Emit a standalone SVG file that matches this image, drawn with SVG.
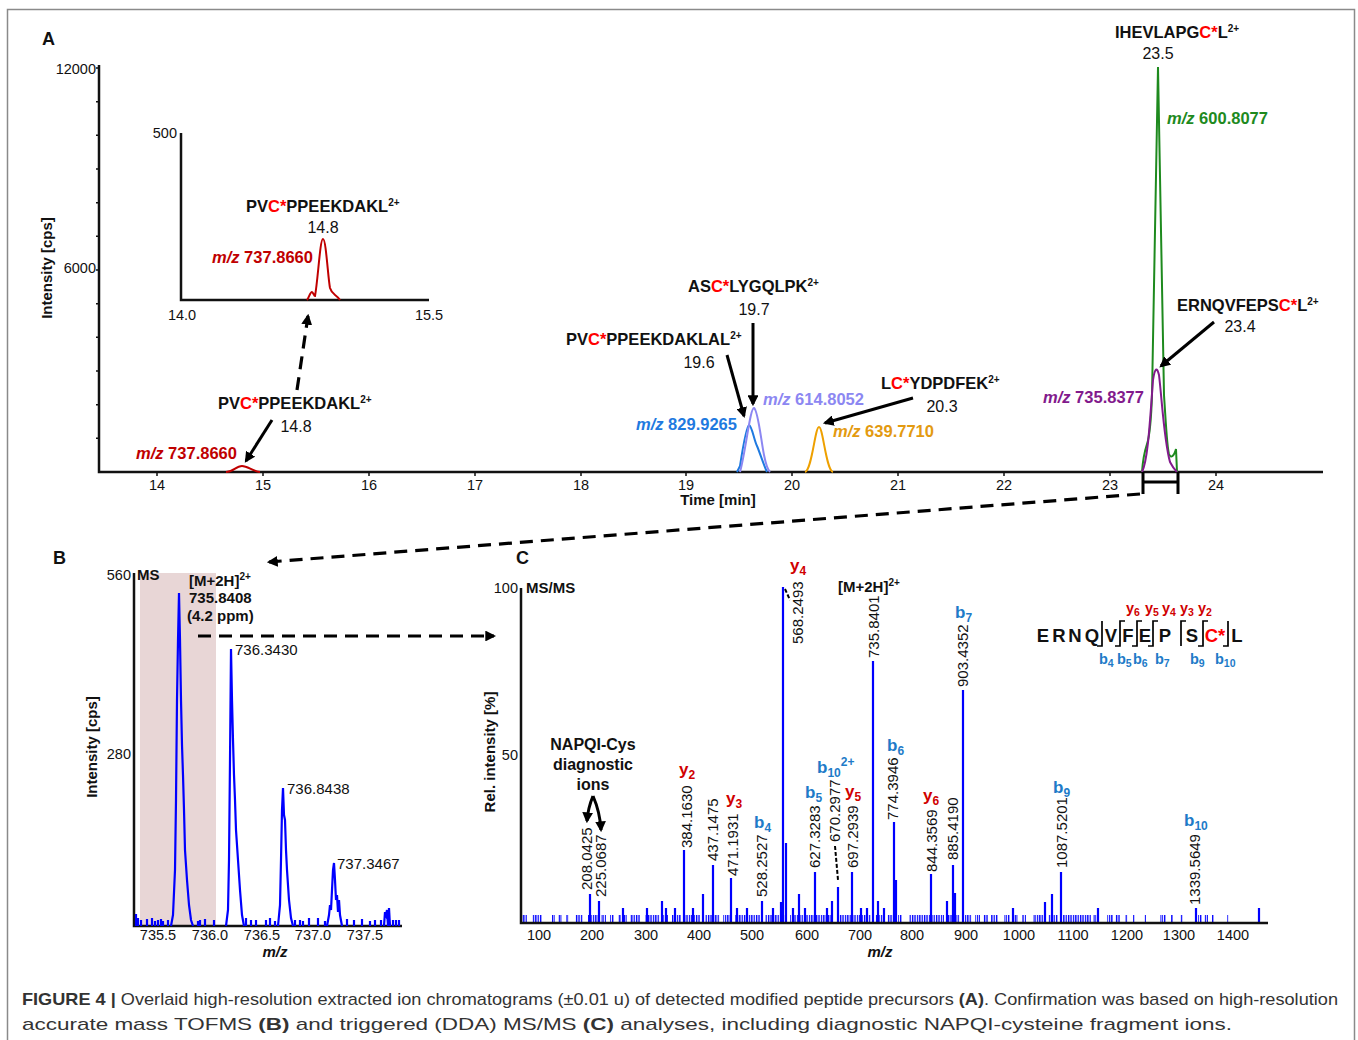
<svg xmlns="http://www.w3.org/2000/svg" width="1358" height="1040" viewBox="0 0 1358 1040">
<style>
text{font-family:"Liberation Sans",Arial,sans-serif;fill:#111}
.b{font-weight:bold}
.pep{font-weight:bold;font-size:16.5px}
.sup{font-size:10px}
.num{font-size:16px}
.tk{font-size:14.5px}
.mz{font-weight:bold;font-size:16.5px}
.pl{font-size:15px}
.ion{font-weight:bold;font-size:17px}
.sub{font-size:12px}
.seq{font-weight:bold;font-size:18.5px}
.sion{font-weight:bold;font-size:14.5px}
.ssub{font-size:10.5px}
.ax{stroke:#111;stroke-width:2.5;fill:none}
.tick{stroke:#111;stroke-width:1.5;fill:none}
.conn{stroke:#000;stroke-width:3;fill:none;marker-end:url(#ah)}
.dash{stroke:#000;stroke-width:3.2;fill:none;stroke-dasharray:13,8}
.ms{stroke:#0000ff;stroke-width:2.2;fill:none}
.red{fill:#ff0000}
.yr{fill:#d00000}
.bb{fill:#1e7bc8}
</style>
<defs>
<marker id="ah" viewBox="0 0 10 10" refX="8" refY="5" markerWidth="3.6" markerHeight="3.6" orient="auto" markerUnits="strokeWidth"><path d="M0,0 L10,5 L0,10 z" fill="#000"/></marker>
<marker id="ahd" viewBox="0 0 10 10" refX="8" refY="5" markerWidth="3.4" markerHeight="3.4" orient="auto" markerUnits="strokeWidth"><path d="M0,0 L10,5 L0,10 z" fill="#000"/></marker>
<pattern id="nz" width="2.4" height="10" patternUnits="userSpaceOnUse"><rect width="1.3" height="10" fill="#0000ff"/></pattern>
</defs>

<rect x="7.5" y="9.5" width="1347" height="1100" fill="#fff" stroke="#8a8a8a" stroke-width="1.5"/>

<!-- PANEL A -->
<g id="panelA">
<text x="42" y="45" class="b" font-size="18">A</text>
<path class="ax" d="M99,65 V472 H1323"/>
<path class="tick" d="M96,438.3 h3 M96,404.7 h3 M96,371 h3 M96,337.3 h3 M96,303.7 h3 M96,270 h3 M96,236.3 h3 M96,202.7 h3 M96,169 h3 M96,135.3 h3 M96,101.7 h3 M96,68 h3"/>
<path class="tick" d="M157,472 v4 M263,472 v4 M369,472 v4 M475,472 v4 M581,472 v4 M686,472 v4 M792,472 v4 M898,472 v4 M1004,472 v4 M1110,472 v4 M1216,472 v4"/>
<g class="tk" text-anchor="end"><text x="96" y="74">12000</text><text x="96" y="273">6000</text></g>
<g class="tk" text-anchor="middle">
<text x="157" y="490">14</text><text x="263" y="490">15</text><text x="369" y="490">16</text><text x="475" y="490">17</text><text x="581" y="490">18</text><text x="686" y="490">19</text><text x="792" y="490">20</text><text x="898" y="490">21</text><text x="1004" y="490">22</text><text x="1110" y="490">23</text><text x="1216" y="490">24</text>
</g>
<text x="718" y="505" class="b" font-size="15" text-anchor="middle">Time [min]</text>
<text transform="translate(52,268) rotate(-90)" class="b" font-size="15" text-anchor="middle">Intensity [cps]</text>

<g id="inset">
<path class="ax" d="M181,133 V300 H429"/>
<text x="177" y="138" class="tk" text-anchor="end">500</text>
<text x="182" y="320" class="tk" text-anchor="middle">14.0</text>
<text x="429" y="320" class="tk" text-anchor="middle">15.5</text>
<path d="M307,300 C309,298 310,292 312,292 C313,292 314,296 315,296 C318,280 320,239 323,239 C326,239 328,278 330,288 C332,295 336,294 340,300" fill="none" stroke="#c00000" stroke-width="2"/>
<text x="246" y="212" class="pep">PV<tspan class="red">C*</tspan>PPEEKDAKL<tspan class="sup" dy="-6">2+</tspan></text>
<text x="323" y="233" class="num" text-anchor="middle">14.8</text>
<text x="212" y="263" class="mz" style="fill:#c00000"><tspan font-style="italic">m/z</tspan> 737.8660</text>
</g>

<g id="peak-148">
<path d="M226,472 C233,472 236,466 242,466 C248,466 252,471 260,472" fill="none" stroke="#c00000" stroke-width="2"/>
<text x="218" y="409" class="pep">PV<tspan class="red">C*</tspan>PPEEKDAKL<tspan class="sup" dy="-6">2+</tspan></text>
<text x="296" y="432" class="num" text-anchor="middle">14.8</text>
<text x="136" y="459" class="mz" style="fill:#c00000"><tspan font-style="italic">m/z</tspan> 737.8660</text>
</g>

<g id="peak-196">
<path d="M737,472 L740,466 C744,440 747,425 749,425 C752,426 754,440 757,446 C760,453 764,466 767,472" fill="none" stroke="#1f7ae0" stroke-width="2"/>
<text x="566" y="345" class="pep">PV<tspan class="red">C*</tspan>PPEEKDAKLAL<tspan class="sup" dy="-6">2+</tspan></text>
<text x="699" y="368" class="num" text-anchor="middle">19.6</text>
<text x="636" y="430" class="mz" style="fill:#1f7ae0"><tspan font-style="italic">m/z</tspan> 829.9265</text>
</g>

<g id="peak-197">
<path d="M740,472 C746,450 750,408 754,408 C758,410 761,440 764,455 C766,465 768,470 770,472" fill="none" stroke="#8c87f2" stroke-width="2"/>
<text x="688" y="292" class="pep">AS<tspan class="red">C*</tspan>LYGQLPK<tspan class="sup" dy="-6">2+</tspan></text>
<text x="754" y="315" class="num" text-anchor="middle">19.7</text>
<text x="763" y="405" class="mz" style="fill:#8c87f2"><tspan font-style="italic">m/z</tspan> 614.8052</text>
</g>

<g id="peak-203">
<path d="M805,472 C812,470 815,427 819,427 C823,427 826,470 833,472" fill="none" stroke="#eea000" stroke-width="2"/>
<text x="881" y="389" class="pep">L<tspan class="red">C*</tspan>YDPDFEK<tspan class="sup" dy="-6">2+</tspan></text>
<text x="942" y="412" class="num" text-anchor="middle">20.3</text>
<text x="833" y="437" class="mz" style="fill:#e39a10"><tspan font-style="italic">m/z</tspan> 639.7710</text>
</g>

<g id="peak-235">
<path d="M1142,472 C1143,458 1145,450 1147,444 C1149,438 1151,425 1152,395 L1158,67 L1164,395 C1166,425 1167,448 1169,454 C1171,459 1174,456 1176,449 L1177,472" fill="none" stroke="#1e8a1e" stroke-width="2"/>
<text x="1115" y="38" class="pep">IHEVLAPG<tspan class="red">C*</tspan>L<tspan class="sup" dy="-6">2+</tspan></text>
<text x="1158" y="59" class="num" text-anchor="middle">23.5</text>
<text x="1167" y="124" class="mz" style="fill:#1e8a1e"><tspan font-style="italic">m/z</tspan> 600.8077</text>
</g>

<g id="peak-234">
<path d="M1142,472 C1148,460 1150,420 1153,380 C1155,367 1157,367 1159,375 C1162,400 1164,440 1170,462 C1173,468 1175,470 1177,472" fill="none" stroke="#821a8c" stroke-width="2"/>
<text x="1177" y="311" class="pep">ERNQVFEPS<tspan class="red">C*</tspan>L<tspan class="sup" dy="-6">2+</tspan></text>
<text x="1240" y="332" class="num" text-anchor="middle">23.4</text>
<text x="1043" y="403" class="mz" style="fill:#821a8c"><tspan font-style="italic">m/z</tspan> 735.8377</text>
</g>

<path id="bracket" d="M1143,472 V494 M1178,472 V494 M1143,482 H1178" fill="none" stroke="#000" stroke-width="3"/>
</g>

<!-- PANEL B -->
<g id="panelB">
<text x="53" y="564" class="b" font-size="18">B</text>
<rect x="140" y="573" width="76" height="353" fill="#e8d6d6"/>
<path class="ax" d="M134,573 V926 H402"/>
<text x="131" y="580" class="tk" text-anchor="end">560</text>
<text x="131" y="759" class="tk" text-anchor="end">280</text>
<text x="137" y="580" class="b" font-size="15">MS</text>
<text x="189" y="586" class="b" font-size="15">[M+2H]<tspan class="sup" dy="-6">2+</tspan></text>
<text x="189" y="603" class="b" font-size="15">735.8408</text>
<text x="187" y="621" class="b" font-size="15">(4.2 ppm)</text>
<g class="tk" text-anchor="middle">
<text x="158" y="940">735.5</text><text x="210" y="940">736.0</text><text x="262" y="940">736.5</text><text x="313" y="940">737.0</text><text x="365" y="940">737.5</text>
</g>
<text x="275" y="957" class="b" font-size="15" font-style="italic" text-anchor="middle">m/z</text>
<text transform="translate(97,747) rotate(-90)" class="b" font-size="15" text-anchor="middle">Intensity [cps]</text>
<path class="ms" d="M171,926 L173,915 L175,870 L176,800 L177,700 L178,640 L179,593 L180,640 L181,700 L182,745 L183,775 L184,810 L185,850 L187,880 L189,905 L191,920 L193,926"/>
<path class="ms" d="M226,926 L228,910 L229,860 L230,760 L231,649 L232,700 L233,740 L234,775 L235,800 L236,830 L238,860 L240,890 L242,915 L244,926"/>
<path class="ms" d="M278,926 L280,905 L281,860 L282,810 L283,788 L284,815 L285,820 L286,850 L287,870 L289,900 L291,918 L293,926"/>
<path class="ms" d="M327,926 L329,915 L330,905 L331,910 L332,890 L333,870 L334,863 L335,880 L336,900 L337,895 L338,912 L339,900 L340,915 L342,926"/>
<path class="ms" d="M384,926 L385,912 L386,915 L387,910 L388,926 L389,908 L390,926"/>
<path class="ms" stroke-width="1.5" d="M136,926 V914 M138,926 V918 M141,926 V920 M147,926 V919 M152,926 V918 M155,926 V921 M158,926 V920 M161,926 V919 M163,926 V921 M168,926 V920 M198,926 V921 M200,926 V920 M205,926 V919 M214,926 V920 M246,926 V918 M251,926 V920 M256,926 V920 M266,926 V920 M270,926 V918 M275,926 V921 M295,926 V920 M300,926 V920 M303,926 V921 M309,926 V918 M318,926 V918 M325,926 V921 M347,926 V919 M354,926 V920 M362,926 V919 M370,926 V921 M375,926 V920 M381,926 V920 M393,926 V920 M396,926 V920 M399,926 V920"/>
<g class="pl">
<text x="235" y="655">736.3430</text>
<text x="287" y="794">736.8438</text>
<text x="337" y="869">737.3467</text>
</g>
</g>

<!-- PANEL C -->
<g id="panelC">
<text x="516" y="564" class="b" font-size="18">C</text>
<g fill="url(#nz)">
<rect x="522" y="915" width="5" height="8"/><rect x="532" y="915" width="10" height="8"/><rect x="552" y="915" width="3" height="8"/><rect x="558" y="915" width="4" height="8"/><rect x="566" y="915" width="3" height="8"/><rect x="575" y="915" width="8" height="8"/><rect x="588" y="915" width="10" height="8"/><rect x="601" y="915" width="5" height="8"/><rect x="610" y="915" width="4" height="8"/><rect x="618" y="915" width="3" height="8"/><rect x="624" y="915" width="3" height="8"/><rect x="630" y="915" width="10" height="8"/><rect x="645" y="915" width="15" height="8"/><rect x="663" y="915" width="5" height="8"/><rect x="672" y="915" width="9" height="8"/><rect x="685" y="915" width="15" height="8"/><rect x="705" y="915" width="15" height="8"/><rect x="723" y="915" width="8" height="8"/><rect x="735" y="915" width="25" height="8"/><rect x="765" y="915" width="20" height="8"/><rect x="790" y="915" width="41" height="8"/><rect x="838" y="915" width="33" height="8"/><rect x="875" y="915" width="10" height="8"/><rect x="887" y="915" width="8" height="8"/><rect x="898" y="915" width="4" height="8"/><rect x="909" y="915" width="21" height="8"/><rect x="932" y="915" width="12" height="8"/><rect x="948" y="915" width="12" height="8"/><rect x="965" y="915" width="7" height="8"/><rect x="975" y="915" width="5" height="8"/><rect x="983" y="915" width="5" height="8"/><rect x="991" y="915" width="7" height="8"/><rect x="1004" y="915" width="6" height="8"/><rect x="1012" y="915" width="6" height="8"/><rect x="1022" y="915" width="4" height="8"/><rect x="1033" y="915" width="12" height="8"/><rect x="1048" y="915" width="10" height="8"/><rect x="1063" y="915" width="28" height="8"/><rect x="1093" y="915" width="5" height="8"/><rect x="1107" y="915" width="6" height="8"/><rect x="1115" y="915" width="5" height="8"/><rect x="1125" y="915" width="3" height="8"/><rect x="1133" y="915" width="2" height="8"/><rect x="1144" y="915" width="2" height="8"/><rect x="1160" y="915" width="6" height="8"/><rect x="1171" y="915" width="2" height="8"/><rect x="1180" y="915" width="3" height="8"/><rect x="1198" y="915" width="4" height="8"/><rect x="1204" y="915" width="4" height="8"/><rect x="1212" y="915" width="2" height="8"/><rect x="1227" y="915" width="2" height="8"/><rect x="1258" y="915" width="2" height="8"/>
</g>
<path class="ms" stroke-width="2.2" d="M590,923 V894 M599,923 V901 M684,923 V850 M713,923 V865 M731,923 V878 M762,923 V901 M783,923 V587 M815,923 V872 M838,923 V887 M852,923 V872 M873,923 V661 M894,923 V822 M931,923 V874 M953,923 V865 M963,923 V690 M1061,923 V872 M1196,923 V908"/>
<path class="ms" stroke-width="1.6" d="M623,923 V908 M647,923 V908 M662,923 V901 M666,923 V908 M675,923 V908 M693,923 V908 M703,923 V894 M737,923 V908 M747,923 V908 M773,923 V908 M781,923 V902 M786,923 V843 M793,923 V908 M799,923 V894 M805,923 V908 M827,923 V908 M832,923 V901 M861,923 V908 M867,923 V908 M878,923 V901 M884,923 V908 M896,923 V880 M947,923 V901 M955,923 V893 M1013,923 V908 M1045,923 V902 M1052,923 V894 M1098,923 V908 M1259,923 V908"/>
<path class="ax" stroke-width="2.2" d="M521,588 V923 H1268"/>
<text x="518" y="593" class="tk" text-anchor="end">100</text>
<text x="518" y="760" class="tk" text-anchor="end">50</text>
<text x="526" y="593" class="b" font-size="15">MS/MS</text>
<text x="838" y="592" class="b" font-size="15">[M+2H]<tspan class="sup" dy="-6">2+</tspan></text>
<g class="tk" text-anchor="middle">
<text x="539" y="940">100</text><text x="592" y="940">200</text><text x="646" y="940">300</text><text x="699" y="940">400</text><text x="752" y="940">500</text><text x="807" y="940">600</text><text x="860" y="940">700</text><text x="912" y="940">800</text><text x="966" y="940">900</text><text x="1019" y="940">1000</text><text x="1073" y="940">1100</text><text x="1127" y="940">1200</text><text x="1179" y="940">1300</text><text x="1233" y="940">1400</text>
</g>
<text x="880" y="957" class="b" font-size="15" font-style="italic" text-anchor="middle">m/z</text>
<text transform="translate(495,752) rotate(-90)" class="b" font-size="15" text-anchor="middle">Rel. intensity [%]</text>

<g class="pl">
<text transform="translate(592,890) rotate(-90)">208.0425</text>
<text transform="translate(606,897) rotate(-90)">225.0687</text>
<text transform="translate(692,848) rotate(-90)">384.1630</text>
<text transform="translate(718,861) rotate(-90)">437.1475</text>
<text transform="translate(738,876) rotate(-90)">471.1931</text>
<text transform="translate(767,897) rotate(-90)">528.2527</text>
<text transform="translate(803,644) rotate(-90)">568.2493</text>
<text transform="translate(820,868) rotate(-90)">627.3283</text>
<text transform="translate(840,842) rotate(-90)">670.2977</text>
<text transform="translate(858,868) rotate(-90)">697.2939</text>
<text transform="translate(879,658) rotate(-90)">735.8401</text>
<text transform="translate(898,820) rotate(-90)">774.3946</text>
<text transform="translate(937,872) rotate(-90)">844.3569</text>
<text transform="translate(958,860) rotate(-90)">885.4190</text>
<text transform="translate(968,687) rotate(-90)">903.4352</text>
<text transform="translate(1067,868) rotate(-90)">1087.5201</text>
<text transform="translate(1200,905) rotate(-90)">1339.5649</text>
</g>
<path d="M785,589 L790,600 M835,846 L838,880" fill="none" stroke="#000" stroke-width="2" stroke-dasharray="4,2"/>

<g class="ion">
<text x="679" y="775" class="yr">y<tspan class="sub" dy="4">2</tspan></text>
<text x="726" y="804" class="yr">y<tspan class="sub" dy="4">3</tspan></text>
<text x="754" y="828" class="bb">b<tspan class="sub" dy="4">4</tspan></text>
<text x="790" y="571" class="yr">y<tspan class="sub" dy="4">4</tspan></text>
<text x="805" y="798" class="bb">b<tspan class="sub" dy="4">5</tspan></text>
<text x="817" y="773" class="bb">b<tspan class="sub" dy="4">10</tspan><tspan class="sub" dy="-11">2+</tspan></text>
<text x="845" y="797" class="yr">y<tspan class="sub" dy="4">5</tspan></text>
<text x="887" y="751" class="bb">b<tspan class="sub" dy="4">6</tspan></text>
<text x="923" y="801" class="yr">y<tspan class="sub" dy="4">6</tspan></text>
<text x="955" y="618" class="bb">b<tspan class="sub" dy="4">7</tspan></text>
<text x="1053" y="793" class="bb">b<tspan class="sub" dy="4">9</tspan></text>
<text x="1184" y="826" class="bb">b<tspan class="sub" dy="4">10</tspan></text>
</g>

<g id="napqi" class="b" font-size="16" text-anchor="middle">
<text x="593" y="750">NAPQI-Cys</text>
<text x="593" y="770">diagnostic</text>
<text x="593" y="790">ions</text>
</g>

<g id="sequence">
<g class="seq" text-anchor="middle">
<text x="1043" y="642">E</text><text x="1059" y="642">R</text><text x="1075" y="642">N</text><text x="1092" y="642">Q</text><text x="1111" y="642">V</text><text x="1128" y="642">F</text><text x="1145" y="642">E</text><text x="1165" y="642">P</text><text x="1192" y="642">S</text><text x="1215" y="642" class="red">C*</text><text x="1237" y="642">L</text>
</g>
<path d="M1097,646 H1102 V621 M1115,646 H1120 V621 H1125 M1132,646 H1137 V621 H1142 M1148,646 H1153 V621 H1158 M1181,646 V621 H1186 M1198,646 H1203 V621 H1208 M1223,646 H1228 V621" fill="none" stroke="#000" stroke-width="1.7"/>
<g class="sion">
<text x="1126" y="613" class="yr">y<tspan class="ssub" dy="3">6</tspan></text>
<text x="1145" y="613" class="yr">y<tspan class="ssub" dy="3">5</tspan></text>
<text x="1162" y="613" class="yr">y<tspan class="ssub" dy="3">4</tspan></text>
<text x="1180" y="613" class="yr">y<tspan class="ssub" dy="3">3</tspan></text>
<text x="1198" y="613" class="yr">y<tspan class="ssub" dy="3">2</tspan></text>
<text x="1099" y="664" class="bb">b<tspan class="ssub" dy="3">4</tspan></text>
<text x="1117" y="664" class="bb">b<tspan class="ssub" dy="3">5</tspan></text>
<text x="1133" y="664" class="bb">b<tspan class="ssub" dy="3">6</tspan></text>
<text x="1155" y="664" class="bb">b<tspan class="ssub" dy="3">7</tspan></text>
<text x="1190" y="664" class="bb">b<tspan class="ssub" dy="3">9</tspan></text>
<text x="1215" y="664" class="bb">b<tspan class="ssub" dy="3">10</tspan></text>
</g>
</g>
</g>

<!-- CONNECTORS -->
<g id="connectors">
<path class="dash" style="marker-end:url(#ahd)" d="M297,390 L308,316"/>
<path class="conn" d="M272,420 L246,461"/>
<path class="conn" d="M753,323 L753,404"/>
<path class="conn" d="M727,355 L744,416"/>
<path class="conn" d="M913,398 L825,423"/>
<path class="conn" d="M1214,322 L1161,366"/>
<path class="dash" style="marker-end:url(#ahd)" d="M1140,494 L269,562"/>
<path class="dash" style="marker-end:url(#ahd)" d="M198,636 L494,636"/>
<path class="conn" d="M593,796 Q588,808 587,821"/>
<path class="conn" d="M593,796 Q600,812 601,830"/>
</g>

<!-- CAPTION -->
<g id="caption" font-size="17">
<text x="22" y="1005" textLength="1316" lengthAdjust="spacingAndGlyphs" style="fill:#333"><tspan class="b">FIGURE 4 |</tspan> Overlaid high-resolution extracted ion chromatograms (±0.01 u) of detected modified peptide precursors <tspan class="b">(A)</tspan>. Confirmation was based on high-resolution</text>
<text x="22" y="1030" textLength="1210" lengthAdjust="spacingAndGlyphs" style="fill:#333">accurate mass TOFMS <tspan class="b">(B)</tspan> and triggered (DDA) MS/MS <tspan class="b">(C)</tspan> analyses, including diagnostic NAPQI-cysteine fragment ions.</text>
</g>
</svg>
